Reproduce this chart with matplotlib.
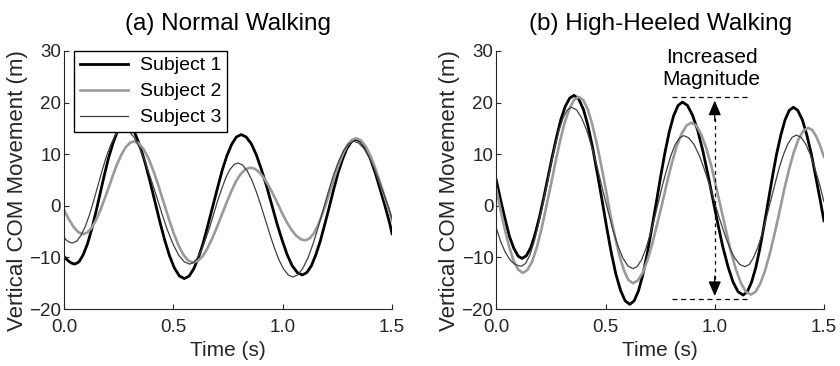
import matplotlib
matplotlib.use("Agg")
import matplotlib.pyplot as plt

plt.rcParams['font.family'] = ['Liberation Sans', 'DejaVu Sans']

# ---------------- data ----------------
# (a) Normal Walking
a_s1_t = [0.0, 0.0125, 0.025, 0.0375,
          0.05, 0.069, 0.088, 0.108, 0.127, 0.146, 0.165, 0.184, 0.203, 0.223, 0.242, 0.261,
          0.28, 0.3025, 0.325, 0.3475, 0.37, 0.3925, 0.415, 0.4375, 0.46, 0.4825, 0.505, 0.5275,
          0.55, 0.572, 0.593, 0.615, 0.637, 0.658, 0.68, 0.702, 0.723, 0.745, 0.767, 0.788,
          0.81, 0.833, 0.857, 0.88, 0.903, 0.927, 0.95, 0.973, 0.997, 1.02, 1.043, 1.067,
          1.09, 1.11, 1.131, 1.151, 1.172, 1.192, 1.213, 1.233, 1.253, 1.274, 1.294, 1.315,
          1.335, 1.357, 1.379, 1.401, 1.423, 1.445, 1.468, 1.49, 1.5]
a_s1_v = [-9.8, -10.4, -10.85, -11.15,
          -11.3, -10.84, -9.47, -7.30, -4.48, -1.18, 2.35, 5.88, 9.18, 12.0, 14.17, 15.54,
          16.0, 15.49, 13.98, 11.59, 8.48, 4.85, 0.95, -2.95, -6.58, -9.69, -12.08, -13.59,
          -14.1, -13.63, -12.23, -10.02, -7.13, -3.76, -0.15, 3.46, 6.83, 9.72, 11.93, 13.33,
          13.8, 13.34, 11.98, 9.82, 7.0, 3.72, 0.2, -3.32, -6.6, -9.42, -11.58, -12.94,
          -13.4, -12.95, -11.64, -9.55, -6.83, -3.65, -0.25, 3.15, 6.33, 9.05, 11.14, 12.45,
          12.9, 12.46, 11.17, 9.11, 6.43, 3.30, -0.05, -3.5, -5.4]

a_s2_t = [0.0, 0.022, 0.044, 0.065,
          0.087, 0.106, 0.126, 0.145, 0.165, 0.184, 0.204, 0.223, 0.242, 0.262, 0.281, 0.301,
          0.32, 0.3425, 0.365, 0.3875, 0.41, 0.4325, 0.455, 0.4775, 0.5, 0.5225, 0.545, 0.5675,
          0.59, 0.612, 0.634, 0.655, 0.677, 0.699, 0.721, 0.743, 0.765, 0.786, 0.808, 0.83,
          0.852, 0.873, 0.894, 0.915, 0.936, 0.957, 0.978, 0.998, 1.019, 1.04, 1.061, 1.082,
          1.103, 1.122, 1.142, 1.161, 1.18, 1.2, 1.219, 1.238, 1.258, 1.277, 1.296, 1.316,
          1.335, 1.357, 1.379, 1.401, 1.423, 1.445, 1.468, 1.49, 1.5]
a_s2_v = [-0.8, -2.6, -4.1, -5.1,
          -5.5, -5.19, -4.29, -2.87, -1.0, 1.17, 3.5, 5.83, 8.0, 9.87, 11.29, 12.19,
          12.5, 12.1, 10.93, 9.06, 6.63, 3.79, 0.75, -2.29, -5.13, -7.56, -9.43, -10.6,
          -11.0, -10.69, -9.77, -8.31, -6.4, -4.18, -1.8, 0.58, 2.8, 4.71, 6.17, 7.09,
          7.4, 7.16, 6.46, 5.34, 3.88, 2.18, 0.35, -1.48, -3.18, -4.64, -5.76, -6.46,
          -6.7, -6.36, -5.37, -3.8, -1.75, 0.64, 3.2, 5.76, 8.15, 10.2, 11.77, 12.76,
          13.1, 12.71, 11.55, 9.72, 7.33, 4.54, 1.55, -1.44, -2.8]

a_s3_t = [0.0, 0.01, 0.02, 0.03,
          0.04, 0.059, 0.078, 0.098, 0.117, 0.136, 0.155, 0.174, 0.193, 0.213, 0.232, 0.251,
          0.27, 0.295, 0.321, 0.346, 0.372, 0.397, 0.423, 0.448, 0.473, 0.499, 0.524, 0.55,
          0.575, 0.593, 0.612, 0.63, 0.648, 0.667, 0.685, 0.703, 0.722, 0.74, 0.758, 0.777,
          0.795, 0.816, 0.837, 0.858, 0.879, 0.9, 0.921, 0.942, 0.963, 0.984, 1.005, 1.026,
          1.047, 1.07, 1.093, 1.117, 1.14, 1.163, 1.186, 1.209, 1.232, 1.256, 1.279, 1.302,
          1.325, 1.348, 1.371, 1.394, 1.417, 1.44, 1.463, 1.485, 1.5]
a_s3_v = [-6.1, -6.6, -6.95, -7.15,
          -7.2, -6.82, -5.71, -3.95, -1.65, 1.03, 3.9, 6.77, 9.45, 11.75, 13.51, 14.62,
          15.0, 14.55, 13.24, 11.15, 8.43, 5.25, 1.85, -1.55, -4.73, -7.45, -9.54, -10.85,
          -11.3, -10.97, -9.99, -8.43, -6.4, -4.04, -1.5, 1.04, 3.4, 5.43, 6.99, 7.97,
          8.3, 7.92, 6.82, 5.07, 2.78, 0.11, -2.75, -5.61, -8.28, -10.57, -12.32, -13.42,
          -13.8, -13.35, -12.04, -9.95, -7.23, -4.05, -0.65, 2.75, 5.93, 8.65, 10.74, 12.05,
          12.5, 12.15, 11.13, 9.5, 7.38, 4.9, 2.25, -0.4, -2.5]

# (b) High-Heeled Walking
b_s1_t = [0.0, 0.02, 0.04, 0.06, 0.08, 0.1,
          0.118, 0.138, 0.158, 0.177, 0.197, 0.217, 0.237, 0.257, 0.277, 0.296, 0.316, 0.336,
          0.356, 0.377, 0.399, 0.42, 0.441, 0.462, 0.484, 0.505, 0.526, 0.547, 0.569, 0.59,
          0.611, 0.631, 0.651, 0.671, 0.691, 0.711, 0.732, 0.752, 0.772, 0.792, 0.812, 0.832,
          0.852, 0.875, 0.898, 0.922, 0.945, 0.968, 0.991, 1.014, 1.037, 1.061, 1.084, 1.107,
          1.13, 1.149, 1.168, 1.188, 1.207, 1.226, 1.245, 1.264, 1.283, 1.303, 1.322, 1.341,
          1.36, 1.38, 1.401, 1.421, 1.442, 1.462, 1.483, 1.5]
b_s1_v = [5.0, 1.1, -2.5, -5.9, -8.2, -9.75,
          -10.2, -9.66, -8.08, -5.57, -2.3, 1.51, 5.6, 9.69, 13.5, 16.77, 19.28, 20.86,
          21.4, 20.71, 18.69, 15.47, 11.28, 6.39, 1.15, -4.09, -8.98, -13.17, -16.39, -18.41,
          -19.1, -18.43, -16.47, -13.36, -9.3, -4.57, 0.5, 5.57, 10.3, 14.36, 17.47, 19.43,
          20.1, 19.46, 17.59, 14.63, 10.75, 6.24, 1.4, -3.44, -7.95, -11.83, -14.79, -16.66,
          -17.3, -16.68, -14.86, -11.97, -8.2, -3.81, 0.9, 5.61, 10.0, 13.77, 16.66, 18.48,
          19.1, 18.49, 16.68, 13.82, 10.08, 5.72, 1.05, -2.9]

b_s2_t = [0.0, 0.02, 0.04, 0.06, 0.08, 0.1,
          0.122, 0.143, 0.165, 0.186, 0.207, 0.228, 0.25, 0.271, 0.292, 0.313, 0.335, 0.356,
          0.377, 0.398, 0.419, 0.439, 0.46, 0.481, 0.502, 0.522, 0.543, 0.564, 0.585, 0.605,
          0.626, 0.648, 0.671, 0.693, 0.715, 0.737, 0.76, 0.782, 0.804, 0.826, 0.849, 0.871,
          0.893, 0.916, 0.938, 0.961, 0.984, 1.006, 1.029, 1.052, 1.074, 1.097, 1.12, 1.142,
          1.165, 1.187, 1.209, 1.231, 1.253, 1.275, 1.297, 1.318, 1.34, 1.362, 1.384, 1.406,
          1.428, 1.446, 1.464, 1.482, 1.5]
b_s2_v = [3.3, -0.9, -4.7, -8.1, -10.7, -12.35,
          -13.0, -12.42, -10.72, -8.01, -4.48, -0.36, 4.05, 8.46, 12.58, 16.11, 18.82, 20.52,
          21.1, 20.49, 18.68, 15.82, 12.08, 7.72, 3.05, -1.62, -5.98, -9.72, -12.58, -14.39,
          -15.0, -14.47, -12.92, -10.45, -7.23, -3.47, 0.55, 4.57, 8.33, 11.55, 14.02, 15.57,
          16.1, 15.53, 13.87, 11.23, 7.78, 3.76, -0.55, -4.86, -8.88, -12.33, -14.97, -16.63,
          -17.2, -16.65, -15.04, -12.47, -9.13, -5.23, -1.05, 3.13, 7.03, 10.37, 12.94, 14.55,
          15.1, 14.7, 13.5, 11.7, 9.5]

b_s3_t = [0.0, 0.02, 0.04, 0.06, 0.08, 0.1,
          0.115, 0.134, 0.153, 0.172, 0.191, 0.21, 0.23, 0.249, 0.268, 0.287, 0.306, 0.325,
          0.344, 0.368, 0.391, 0.415, 0.438, 0.462, 0.485, 0.509, 0.532, 0.556, 0.579, 0.603,
          0.626, 0.645, 0.665, 0.684, 0.703, 0.723, 0.742, 0.761, 0.781, 0.8, 0.819, 0.839,
          0.858, 0.881, 0.905, 0.928, 0.951, 0.975, 0.998, 1.021, 1.045, 1.068, 1.091, 1.115,
          1.138, 1.158, 1.177, 1.197, 1.217, 1.236, 1.256, 1.276, 1.295, 1.315, 1.335, 1.354,
          1.374, 1.395, 1.416, 1.437, 1.458, 1.479, 1.5]
b_s3_v = [-4.3, -6.9, -8.9, -10.3, -11.2, -11.6,
          -11.7, -11.18, -9.64, -7.19, -4.0, -0.29, 3.7, 7.69, 11.4, 14.59, 17.04, 18.58,
          19.1, 18.57, 17.0, 14.52, 11.28, 7.5, 3.45, -0.6, -4.38, -7.62, -10.1, -11.67,
          -12.2, -11.76, -10.47, -8.42, -5.75, -2.64, 0.7, 4.04, 7.15, 9.82, 11.87, 13.16,
          13.6, 13.17, 11.9, 9.88, 7.25, 4.19, 0.9, -2.39, -5.45, -8.08, -10.1, -11.37,
          -11.8, -11.37, -10.09, -8.07, -5.43, -2.35, 0.95, 4.25, 7.33, 9.97, 11.99, 13.27,
          13.7, 13.27, 12.0, 10.0, 7.3, 4.3, 0.8]

series_labels = ['Subject 1', 'Subject 2', 'Subject 3']
titles = ['(a) Normal Walking', '(b) High-Heeled Walking']
x_ticks = [0.0, 0.5, 1.0, 1.5]
x_tick_labels = ['0.0', '0.5', '1.0', '1.5']
y_ticks = [-20, -10, 0, 10, 20, 30]
xlabel = 'Time (s)'
ylabel = 'Vertical COM Movement (m)'
annot_text = 'Increased\nMagnitude'

# ---------------- styling ----------------
styles = [dict(color='black', lw=2.0),
          dict(color='#9a9a9a', lw=1.9),
          dict(color='#404040', lw=0.9)]
axis_col = '#262626'

fig = plt.figure(figsize=(8.4, 3.66), dpi=100)
axA = fig.add_axes([0.0762, 0.1557, 0.3905, 0.705])
axB = fig.add_axes([0.5908, 0.1557, 0.3901, 0.705])

panels = [
    (axA, [(a_s1_t, a_s1_v), (a_s2_t, a_s2_v), (a_s3_t, a_s3_v)]),
    (axB, [(b_s1_t, b_s1_v), (b_s2_t, b_s2_v), (b_s3_t, b_s3_v)]),
]

for i, (ax, data) in enumerate(panels):
    for (t, v), st, lab in zip(data, styles, series_labels):
        ax.plot(t, v, label=lab, solid_joinstyle='round', **st)
    ax.set_xlim(0, 1.5)
    ax.set_ylim(-20, 30)
    ax.set_xticks(x_ticks)
    ax.set_xticklabels(x_tick_labels)
    ax.set_yticks(y_ticks)
    for s in ['top', 'right']:
        ax.spines[s].set_visible(False)
    for s in ['left', 'bottom']:
        ax.spines[s].set_color(axis_col)
        ax.spines[s].set_linewidth(0.8)
    ax.tick_params(direction='in', length=3.5, width=0.8, colors=axis_col,
                   labelsize=13.5, labelcolor=axis_col)
    ax.tick_params(axis='y', pad=2)
    ax.tick_params(axis='x', pad=7)
    ax.set_xlabel(xlabel, fontsize=15, color=axis_col, labelpad=4)
    ax.set_ylabel(ylabel, fontsize=16, color=axis_col)
    ax.yaxis.set_label_coords(-0.11, 0.46)
    ax.set_title(titles[i], fontsize=17.5, color='black', pad=15)

leg = axA.legend(loc='upper left', bbox_to_anchor=(0.03, 1.0), borderaxespad=0,
                 fontsize=14, frameon=True, fancybox=False, framealpha=1,
                 edgecolor='black', handlelength=2.5, handletextpad=0.6,
                 labelspacing=0.43, borderpad=0.3)
leg.get_frame().set_linewidth(1.0)

# annotation in panel (b)
top_v, bot_v = 21.0, -18.1
x_left, x_right, x_arrow = 0.806, 1.157, 1.0
axB.plot([x_left, x_right], [top_v, top_v], color='black', lw=0.9, ls=(0, (4, 3)))
axB.plot([x_left, x_right], [bot_v, bot_v], color='black', lw=0.9, ls=(0, (4, 3)))
axB.plot([x_arrow, x_arrow], [17.0, -14.5], color='black', lw=0.9, ls=(0, (3, 3)))
axB.annotate('', xy=(x_arrow, 20.4), xytext=(x_arrow, 16.5),
             arrowprops=dict(arrowstyle='-|>,head_length=0.75,head_width=0.32',
                             color='black', lw=0.9, shrinkA=0, shrinkB=0, mutation_scale=12))
axB.annotate('', xy=(x_arrow, -17.5), xytext=(x_arrow, -13.6),
             arrowprops=dict(arrowstyle='-|>,head_length=0.75,head_width=0.32',
                             color='black', lw=0.9, shrinkA=0, shrinkB=0, mutation_scale=12))
axB.text(0.985, 26.7, annot_text, ha='center', va='center', fontsize=15,
         color='black', linespacing=1.2)

fig.savefig('out.png', dpi=100)
